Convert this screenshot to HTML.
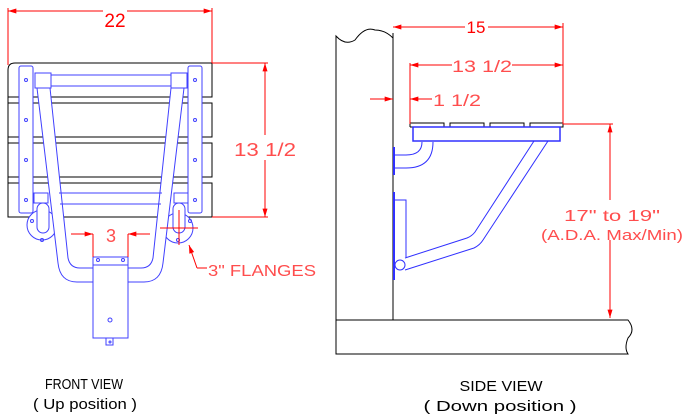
<!DOCTYPE html>
<html><head><meta charset="utf-8"><style>
html,body{margin:0;padding:0;background:#fff;width:692px;height:420px;overflow:hidden}
text{font-family:"Liberation Sans",sans-serif}
</style></head><body>
<svg width="692" height="420" viewBox="0 0 692 420" xmlns="http://www.w3.org/2000/svg">
<defs>
<marker id="ar" viewBox="0 0 10 6" refX="10" refY="3" markerWidth="10" markerHeight="5" orient="auto-start-reverse" markerUnits="userSpaceOnUse"><path d="M0,0 L10,3 L0,6z" fill="#f00"/></marker>
</defs>
<!-- FRONT VIEW -->
<g fill="none" stroke="#000" stroke-width="1">
<path d="M8,217 V70 Q8,63 15,63 H212 V97 H8"/>
<rect x="8" y="103" width="204" height="34"/>
<rect x="8" y="143" width="204" height="34"/>
<rect x="8" y="183" width="204" height="34"/>
</g>
<g fill="#fff" stroke="#4040ff" stroke-width="1">
<circle cx="42" cy="225" r="15"/>
<circle cx="178" cy="228" r="15"/>
<rect x="19" y="66" width="14" height="147" rx="2"/>
<rect x="188" y="66" width="14" height="147" rx="2"/>
<rect x="37" y="203" width="12" height="30" rx="6"/>
<rect x="173" y="203" width="12" height="30" rx="6"/>
<rect x="35" y="73" width="16" height="15"/>
<rect x="171" y="73" width="16" height="15"/>
<rect x="34" y="193" width="14" height="10"/>
<rect x="174" y="193" width="14" height="10"/>
<path d="M37,88 L58,263 Q60,282 77,282 H93 L93,268 H80 Q70,268 68,258 L50,88 Z"/>
<path d="M184,88 L163,263 Q161,282 144,282 H128 L128,268 H141 Q151,268 153,258 L171,88 Z"/>
<path d="M51,75 H171 M51,86 H171 M59,193 H162 M60,204 H161" fill="none"/>
<rect x="93" y="257" width="35" height="81"/>
<line x1="93" y1="265" x2="128" y2="265"/>
<rect x="106" y="338" width="7" height="7"/>
</g>
<g fill="none" stroke="#4040ff" stroke-width="1">
<circle cx="26" cy="80" r="1.5"/><circle cx="26" cy="120" r="1.5"/><circle cx="26" cy="160" r="1.5"/><circle cx="26" cy="200" r="1.5"/>
<circle cx="195" cy="80" r="1.5"/><circle cx="195" cy="120" r="1.5"/><circle cx="195" cy="160" r="1.5"/><circle cx="195" cy="200" r="1.5"/>
<circle cx="32" cy="221" r="1.5"/><circle cx="42" cy="240" r="1.5"/><circle cx="190" cy="221" r="1.5"/><circle cx="178" cy="240" r="1.5"/>
<circle cx="98" cy="260" r="1.5"/><circle cx="123" cy="260" r="1.5"/><circle cx="110" cy="320" r="2"/><circle cx="110" cy="342" r="1"/>
</g>
<g stroke="#f00" stroke-width="1" fill="none">
<path d="M8,8 V65 M212,8 V63"/>
<line x1="20" y1="11" x2="8" y2="11" marker-end="url(#ar)"/>
<line x1="200" y1="11" x2="212" y2="11" marker-end="url(#ar)"/>
<path d="M20,11 H103 M127,11 H200"/>
<path d="M212,63 H268 M212,217 H268"/>
<line x1="265" y1="135" x2="265" y2="63" marker-end="url(#ar)"/>
<line x1="265" y1="160" x2="265" y2="217" marker-end="url(#ar)"/>
<line x1="71" y1="234" x2="93" y2="234" marker-end="url(#ar)"/>
<line x1="150" y1="234" x2="128" y2="234" marker-end="url(#ar)"/>
<path d="M93,234 V257 M128,234 V257"/>
<path d="M160,228 H198 M179,210 V245"/>
<line x1="197" y1="268" x2="189" y2="245" marker-end="url(#ar)"/>
<path d="M197,268 H207"/>
</g>
<g fill="#ff4d4d" font-size="16">
<text x="115" y="27" text-anchor="middle" fill="#f00" font-size="19">22</text>
<text x="265" y="156" text-anchor="middle" textLength="62" lengthAdjust="spacingAndGlyphs" font-size="18">13 1/2</text>
<text x="111" y="242" text-anchor="middle" font-size="18">3</text>
<text x="208" y="276" font-size="16" textLength="108" lengthAdjust="spacingAndGlyphs">3" FLANGES</text>
</g>
<!-- SIDE VIEW -->
<g fill="none" stroke="#000" stroke-width="1">
<path d="M336,320 V36 Q345,46 355,40 Q365,26 375,30 Q385,30 393,38"/>
<path d="M393,33 V320"/>
<path d="M336,320 H628 Q636,330 628,338 Q624,348 628,354 H336 Z"/>
<path d="M410,127 V123 H444 V127 M450,127 V123 H484 V127 M490,127 V123 H524 V127 M530,127 V123 H563 V127 H410"/>
</g>
<g fill="none" stroke="#3030ff" stroke-width="1">
<rect x="413" y="127" width="147" height="14" stroke-width="1.5"/>
<path d="M393,155 H406 Q422,155 422,142 M393,168 H406 Q433,168 433,142"/>
<path d="M394,147 V175 M394,192 V280" stroke-width="2"/>
<path d="M394,200 H406 V257"/>
<circle cx="400" cy="265" r="5"/>
<path d="M405,258 L467,238 Q472,236 475,232 L534,141 M405,270 L474,248 Q480,245 483,240 L548,141"/>
</g>
<g stroke="#f00" stroke-width="1" fill="none">
<path d="M563,23 V124 M410,63 V124 M563,124 H613"/>
<line x1="405" y1="27" x2="393" y2="27" marker-end="url(#ar)"/>
<line x1="551" y1="27" x2="563" y2="27" marker-end="url(#ar)"/>
<path d="M405,27 H465 M488,27 H551"/>
<line x1="422" y1="65" x2="410" y2="65" marker-end="url(#ar)"/>
<line x1="551" y1="65" x2="563" y2="65" marker-end="url(#ar)"/>
<path d="M422,65 H452 M512,65 H551"/>
<line x1="370" y1="99" x2="393" y2="99" marker-end="url(#ar)"/>
<line x1="432" y1="99" x2="410" y2="99" marker-end="url(#ar)"/>
<line x1="610" y1="200" x2="610" y2="124" marker-end="url(#ar)"/>
<line x1="610" y1="240" x2="610" y2="318" marker-end="url(#ar)"/>
</g>
<g fill="#ff4d4d" font-size="17">
<text x="476" y="33" text-anchor="middle" fill="#f00">15</text>
<text x="482" y="72" text-anchor="middle" textLength="60" lengthAdjust="spacingAndGlyphs">13 1/2</text>
<text x="433" y="106" textLength="48" lengthAdjust="spacingAndGlyphs">1 1/2</text>
<text x="612" y="221" text-anchor="middle" font-size="16" textLength="96" lengthAdjust="spacingAndGlyphs">17" to 19"</text>
<text x="612" y="240" text-anchor="middle" font-size="15" textLength="142" lengthAdjust="spacingAndGlyphs">(A.D.A. Max/Min)</text>
</g>
<g fill="#000" font-size="15">
<text x="84" y="389" text-anchor="middle" textLength="78" lengthAdjust="spacingAndGlyphs">FRONT VIEW</text>
<text x="85" y="409" text-anchor="middle" textLength="104" lengthAdjust="spacingAndGlyphs">( Up position )</text>
<text x="501" y="391" text-anchor="middle" textLength="83" lengthAdjust="spacingAndGlyphs">SIDE VIEW</text>
<text x="500" y="411" text-anchor="middle" textLength="153" lengthAdjust="spacingAndGlyphs">( Down position )</text>
</g>
</svg>
</body></html>
